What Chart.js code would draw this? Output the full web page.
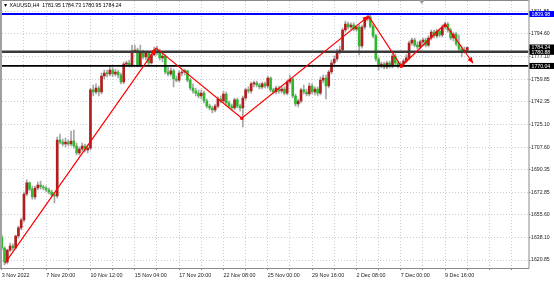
<!DOCTYPE html>
<html><head><meta charset="utf-8">
<script src="https://cdn.jsdelivr.net/npm/chart.js@4/dist/chart.umd.min.js"></script>
<style>html,body{margin:0;padding:0;background:#fff;overflow:hidden}</style>
</head><body>
<canvas id="c" width="554" height="282"></canvas>
<script>
const TITLE = "\u25BC XAUUSD,H4  1781.95 1784.73 1780.95 1784.24";
const X_LABELS = ["3 Nov 2022","7 Nov 20:00","10 Nov 12:00","15 Nov 04:00","17 Nov 20:00","22 Nov 08:00","25 Nov 00:00","29 Nov 16:00","2 Dec 08:00","7 Dec 00:00","9 Dec 16:00"];
const X_LABEL_STEP = 16;   // candles between time labels
const X_GRID_STEP = 8;     // candles between vertical grid lines
const PRICE_TICKS = [1620.85,1638.10,1655.60,1672.85,1690.35,1707.60,1725.10,1742.35,1759.85,1777.10,1794.60,1811.85];

const OPEN = [
1638.5,1630.1,1619.3,1628.5,1631.6,1630.1,1639.3,1645.5,1651.6,1671.6,
1680.1,1675.4,1669.3,1676.2,1678.5,1677.0,1676.2,1674.7,1673.1,1670.8,
1670.1,1713.1,1711.5,1710.0,1711.5,1710.0,1712.3,1708.5,1703.1,1706.2,
1708.5,1705.4,1706.9,1751.6,1750.0,1753.1,1750.0,1762.3,1764.6,1763.9,
1766.9,1763.9,1765.4,1763.1,1757.7,1771.5,1772.3,1770.8,1781.5,1782.3,
1770.8,1780.8,1776.9,1780.0,1772.3,1778.5,1782.3,1780.0,1776.2,1777.7,
1765.4,1763.9,1766.2,1760.0,1759.2,1764.6,1765.4,1766.2,1759.2,1753.1,
1750.8,1749.2,1746.9,1749.2,1743.1,1739.2,1737.7,1736.2,1739.2,1744.6,
1743.1,1748.5,1741.6,1739.2,1737.7,1743.9,1739.2,1737.7,1745.4,1751.6,
1750.8,1756.2,1756.9,1755.4,1753.9,1756.2,1754.6,1760.8,1751.6,1750.0,
1753.1,1750.8,1752.3,1749.2,1757.7,1760.0,1746.9,1740.8,1743.1,1751.6,
1750.0,1748.5,1754.6,1750.0,1752.3,1749.2,1759.2,1760.8,1754.6,1765.4,
1772.3,1775.4,1780.8,1782.3,1797.7,1802.3,1800.0,1801.5,1798.4,1800.0,
1785.4,1800.0,1806.1,1807.7,1800.7,1793.1,1775.4,1770.0,1771.5,1769.2,
1772.3,1770.0,1777.7,1772.3,1770.0,1771.5,1773.8,1776.2,1787.7,1790.0,
1786.1,1784.6,1788.5,1790.0,1786.1,1791.5,1796.1,1793.1,1796.9,1793.8,
1800.0,1802.3,1797.7,1791.5,1794.6,1786.9,1783.1,1781.5,1781.95];
const HIGH = [
1640.1,1630.9,1629.3,1633.9,1633.2,1640.1,1647.0,1653.1,1673.1,1682.4,
1680.8,1677.7,1677.7,1680.8,1681.6,1678.5,1677.7,1676.2,1674.7,1672.4,
1715.4,1717.7,1713.9,1714.6,1713.1,1720.0,1720.8,1710.8,1707.7,1710.8,
1710.0,1709.3,1753.1,1755.4,1756.2,1754.6,1764.6,1766.9,1766.9,1769.2,
1768.5,1767.7,1766.9,1764.6,1773.1,1773.8,1774.6,1786.1,1786.1,1783.8,
1786.1,1782.3,1781.5,1781.5,1780.0,1784.6,1785.4,1783.1,1780.0,1778.5,
1769.2,1768.5,1767.7,1762.3,1766.2,1766.9,1767.7,1766.9,1760.8,1756.2,
1753.1,1751.6,1751.6,1750.8,1744.6,1740.8,1739.2,1740.8,1746.2,1746.9,
1750.8,1750.0,1743.1,1740.8,1745.4,1745.4,1740.8,1746.9,1753.1,1753.9,
1757.7,1758.5,1758.5,1756.9,1757.7,1757.7,1762.3,1761.6,1753.1,1754.6,
1754.6,1754.6,1753.9,1759.2,1763.1,1760.8,1748.5,1744.6,1753.1,1755.4,
1752.3,1756.9,1756.2,1753.9,1753.9,1761.6,1763.1,1763.1,1766.9,1774.6,
1777.7,1783.1,1785.4,1799.2,1804.6,1803.8,1803.1,1803.1,1801.5,1801.5,
1801.5,1807.7,1809.6,1809.2,1802.3,1794.6,1776.9,1773.1,1773.1,1773.8,
1773.8,1779.2,1779.2,1773.8,1773.1,1775.4,1778.5,1789.2,1791.5,1791.5,
1788.5,1790.0,1791.5,1791.5,1793.1,1797.7,1797.7,1798.4,1798.4,1801.5,
1803.8,1803.4,1799.2,1796.1,1796.1,1793.8,1785.4,1784.6,1784.73];
const LOW = [
1628.5,1617.0,1617.8,1627.0,1628.5,1629.3,1637.7,1643.9,1650.1,1670.1,
1673.9,1667.7,1667.7,1674.7,1675.4,1674.7,1673.1,1671.6,1669.3,1664.7,
1668.5,1710.0,1708.5,1707.7,1708.5,1708.5,1706.9,1701.6,1701.6,1704.6,
1703.9,1703.1,1705.4,1746.9,1748.5,1746.9,1748.5,1760.0,1761.6,1762.3,
1761.6,1762.3,1760.8,1756.2,1756.2,1770.0,1769.2,1769.2,1780.0,1769.2,
1769.2,1775.4,1774.6,1770.8,1771.5,1777.7,1778.5,1774.6,1773.1,1763.9,
1762.3,1762.3,1753.9,1757.7,1757.7,1762.3,1763.1,1757.7,1751.6,1749.2,
1746.9,1745.4,1744.6,1741.6,1737.7,1736.2,1733.9,1734.6,1737.7,1741.6,
1741.6,1740.0,1737.7,1736.2,1736.2,1737.7,1735.4,1723.1,1743.9,1749.2,
1749.2,1753.9,1753.9,1752.3,1752.3,1753.1,1753.1,1750.0,1748.5,1748.5,
1749.2,1749.2,1747.7,1747.7,1756.2,1745.4,1739.2,1738.5,1741.6,1748.5,
1746.9,1746.9,1748.5,1747.7,1746.9,1747.7,1756.9,1744.6,1753.1,1763.9,
1770.0,1773.8,1779.2,1780.8,1796.1,1798.4,1798.4,1796.9,1796.9,1778.5,
1783.8,1798.4,1804.6,1799.2,1791.5,1773.8,1766.9,1768.5,1767.7,1767.7,
1768.5,1768.5,1770.0,1768.5,1769.2,1770.0,1772.3,1774.6,1786.1,1784.6,
1783.1,1783.1,1786.1,1784.6,1784.6,1790.0,1791.5,1791.5,1792.3,1792.3,
1798.4,1796.1,1790.0,1789.2,1785.4,1781.5,1776.9,1780.0,1780.95];
const CLOSE = [
1630.1,1619.3,1628.5,1631.6,1630.1,1639.3,1645.5,1651.6,1671.6,1680.1,
1675.4,1669.3,1676.2,1678.5,1677.0,1676.2,1674.7,1673.1,1670.8,1670.1,
1713.1,1711.5,1710.0,1711.5,1710.0,1712.3,1708.5,1703.1,1706.2,1708.5,
1705.4,1706.9,1751.6,1750.0,1753.1,1750.0,1762.3,1764.6,1763.9,1766.9,
1763.9,1765.4,1763.1,1757.7,1771.5,1772.3,1770.8,1781.5,1782.3,1770.8,
1780.8,1776.9,1780.0,1772.3,1778.5,1782.3,1780.0,1776.2,1777.7,1765.4,
1763.9,1766.2,1760.0,1759.2,1764.6,1765.4,1766.2,1759.2,1753.1,1750.8,
1749.2,1746.9,1749.2,1743.1,1739.2,1737.7,1736.2,1739.2,1744.6,1743.1,
1748.5,1741.6,1739.2,1737.7,1743.9,1739.2,1737.7,1745.4,1751.6,1750.8,
1756.2,1756.9,1755.4,1753.9,1756.2,1754.6,1760.8,1751.6,1750.0,1753.1,
1750.8,1752.3,1749.2,1757.7,1760.0,1746.9,1740.8,1743.1,1751.6,1750.0,
1748.5,1754.6,1750.0,1752.3,1749.2,1759.2,1760.8,1754.6,1765.4,1772.3,
1775.4,1780.8,1782.3,1797.7,1802.3,1800.0,1801.5,1798.4,1800.0,1785.4,
1800.0,1806.1,1807.7,1800.7,1793.1,1775.4,1770.0,1771.5,1769.2,1772.3,
1770.0,1777.7,1772.3,1770.0,1771.5,1773.8,1776.2,1787.7,1790.0,1786.1,
1784.6,1788.5,1790.0,1786.1,1791.5,1796.1,1793.1,1796.9,1793.8,1800.0,
1802.3,1797.7,1791.5,1794.6,1786.9,1783.1,1781.5,1781.95,1784.24];

// horizontal levels drawn on the chart and their price-axis tags
const LEVEL_PRICES = [1809.98, 1780.88, 1770.04];
const LEVEL_COLORS = ['#0000ff', '#3a3a3a', '#000000'];
const LEVEL_WIDTHS = [1.8, 2.5, 1.8];
const TAG_PRICES = [1809.98, 1784.24, 1780.88, 1770.04];
const TAG_COLORS = ['#0000ff', '#000000', '#000000', '#000000'];

// zig-zag trend line (candle index, price)
const TREND_X = [1.16, 55.7, 86.6, 132.4, 144.2, 160.0, 170.1];
const TREND_Y = [1618.5, 1783.8, 1729.8, 1808.4, 1769.8, 1802.3, 1772.1];
const TREND_ARROWS = [1, 3, 6];
const TREND_MARKS = [2, 4];
const SHIFT_MARK = 151.6;

const X_MIN = 0.07, X_MAX = 190.1;
const Y_MIN = 1614.70, Y_MAX = 1819.97;
const BULL = '#b01e1e', BEAR = '#2eb82e', WICK = '#a6a6a6';
const FONT = '"Liberation Sans", Arial, sans-serif';

const wickData = OPEN.map((o, i) => ({x: i, y: [LOW[i], HIGH[i]]}));
const bodyData = OPEN.map((o, i) => ({x: i, y: [o, CLOSE[i]]}));
const bodyColors = OPEN.map((o, i) => CLOSE[i] >= o ? BULL : BEAR);
const levelSets = LEVEL_PRICES.map((p, k) => ({
  type: 'line', data: [{x: X_MIN, y: p}, {x: X_MAX, y: p}],
  borderColor: LEVEL_COLORS[k], borderWidth: LEVEL_WIDTHS[k], pointRadius: 0, order: 2
}));

const xTickVals = [];
for (let v = 0; v <= X_MAX; v += X_GRID_STEP) xTickVals.push(v);

const decor = {
  id: 'decor',
  beforeDraw(chart) {
    const c = chart.ctx; c.save(); c.fillStyle = '#fff'; c.fillRect(0, 0, chart.width, chart.height); c.restore();
  },
  afterDatasetsDraw(chart) {
    const c = chart.ctx;
    const meta = chart.getDatasetMeta(2);
    const pts = meta.data;
    c.save();
    c.fillStyle = '#ff0000';
    TREND_ARROWS.forEach(k => {
      const a = pts[k - 1], b = pts[k];
      const ang = Math.atan2(b.y - a.y, b.x - a.x);
      const L = 6, W = 2.6;
      c.beginPath();
      c.moveTo(b.x, b.y);
      c.lineTo(b.x - L * Math.cos(ang) + W * Math.sin(ang), b.y - L * Math.sin(ang) - W * Math.cos(ang));
      c.lineTo(b.x - L * Math.cos(ang) - W * Math.sin(ang), b.y - L * Math.sin(ang) + W * Math.cos(ang));
      c.closePath(); c.fill();
    });
    TREND_MARKS.forEach(k => { const p = pts[k]; c.fillRect(p.x - 1.5, p.y - 1.5, 3, 3); });
    c.restore();
  },
  afterDraw(chart) {
    const c = chart.ctx, a = chart.chartArea;
    const ys = chart.scales.y, xs = chart.scales.x;
    c.save();
    // frame
    c.fillStyle = '#a0a0a0'; c.fillRect(0, 0, 2, a.bottom);
    c.strokeStyle = '#8a8a8a'; c.lineWidth = 1;
    c.beginPath();
    c.moveTo(a.left, a.top - 0.5); c.lineTo(a.right, a.top - 0.5);
    c.moveTo(a.right + 0.5, 0); c.lineTo(a.right + 0.5, a.bottom + 0.5);
    c.moveTo(0, a.bottom + 0.5); c.lineTo(a.right + 0.5, a.bottom + 0.5);
    c.stroke();
    // chart shift marker
    const sx = xs.getPixelForValue(SHIFT_MARK);
    c.fillStyle = '#9a9a9a';
    c.beginPath(); c.moveTo(sx - 3, 0); c.lineTo(sx + 3, 0); c.lineTo(sx, 4); c.closePath(); c.fill();
    // price tags
    c.font = '5.2px ' + FONT; c.textBaseline = 'middle'; c.textAlign = 'left';
    TAG_PRICES.forEach((p, k) => {
      const y = ys.getPixelForValue(p);
      c.fillStyle = TAG_COLORS[k];
      c.fillRect(a.right + 1, y - 3, chart.width - a.right - 1, 6);
      c.fillStyle = '#fff';
      c.fillText(p.toFixed(2), a.right + 3, y + 0.3);
    });
    // title
    c.fillStyle = '#000'; c.font = '5.2px ' + FONT;
    c.fillText(TITLE, 3, 6);
    c.restore();
  }
};

new Chart(document.getElementById('c'), {
  type: 'bar',
  data: {
    datasets: [
      {type: 'bar', data: wickData, backgroundColor: WICK, barThickness: 1, grouped: false, order: 4},
      {type: 'bar', data: bodyData, backgroundColor: bodyColors, barThickness: 2, grouped: false, minBarLength: 1, order: 3},
      {type: 'line', data: TREND_X.map((x, k) => ({x, y: TREND_Y[k]})), borderColor: '#ff0000', borderWidth: 1.2, pointRadius: 0, order: 0},
      ...levelSets
    ]
  },
  options: {
    responsive: false, animation: false, devicePixelRatio: 1,
    layout: {padding: {top: 1, left: 2, right: 0, bottom: 0}},
    plugins: {legend: {display: false}, tooltip: {enabled: false}, title: {display: false}},
    scales: {
      x: {
        type: 'linear', min: X_MIN, max: X_MAX, offset: false,
        grid: {offset: false, color: '#c9ccd6', lineWidth: 1, tickLength: 2, tickColor: '#888', tickBorderDash: []},
        border: {display: false, dash: [1, 2]},
        afterBuildTicks: s => { s.ticks = xTickVals.map(v => ({value: v})); },
        afterFit: s => { s.height = 14; s.paddingLeft = 0; s.paddingRight = 0; },
        ticks: {
          autoSkip: false, maxRotation: 0, minRotation: 0, align: 'start', padding: 2,
          color: '#222', font: {size: 5.4, family: FONT},
          callback: v => (v % X_LABEL_STEP === 0 && X_LABELS[v / X_LABEL_STEP]) ? X_LABELS[v / X_LABEL_STEP] : ''
        }
      },
      y: {
        type: 'linear', position: 'right', min: Y_MIN, max: Y_MAX,
        grid: {color: '#c9ccd6', lineWidth: 1, tickLength: 2, tickColor: '#888', tickBorderDash: []},
        border: {display: false, dash: [1, 2]},
        afterBuildTicks: s => { s.ticks = PRICE_TICKS.map(v => ({value: v})); },
        afterFit: s => { s.width = 25.5; s.paddingTop = 0; s.paddingBottom = 0; },
        ticks: {padding: 0.5, color: '#222', font: {size: 5.2, family: FONT}, callback: v => Number(v).toFixed(2)}
      }
    }
  },
  plugins: [decor]
});
</script>
</body></html>
